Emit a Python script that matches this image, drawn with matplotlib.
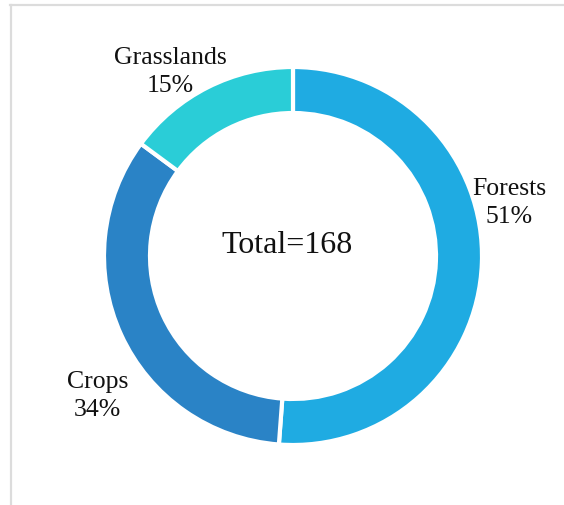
import matplotlib
matplotlib.use("Agg")
import matplotlib.pyplot as plt
from matplotlib.lines import Line2D

categories = ["Forests", "Crops", "Grasslands"]
values = [86, 57, 25]
colors = ["#1FABE2", "#2A83C6", "#2ACDD7"]

W, H = 564, 506
fig = plt.figure(figsize=(W / 100, H / 100), dpi=100)
fig.patch.set_facecolor("white")
ax = fig.add_axes([0, 0, 1, 1])

total = sum(values)
cx, cy = 293, H - 257
ax.pie(values, colors=colors, startangle=90, counterclock=False,
       radius=189, center=(cx, cy),
       wedgeprops=dict(width=46, edgecolor="white", linewidth=3))
ax.set_xlim(0, W)
ax.set_ylim(0, H)
ax.set_aspect("equal")
ax.axis("off")

font = "Liberation Serif"
label_pos = {"Forests": (509, H - 203), "Crops": (97.5, H - 396), "Grasslands": (170, H - 72)}
for cat, v in zip(categories, values):
    x, y = label_pos[cat]
    ax.text(x, y, f"{cat}\n{round(v / total * 100)}%", ha="center", va="center",
            fontsize=18.5, family=font, linespacing=1.3, color="#111111")

ax.text(287.5, H - 253, f"Total={total}", ha="center", va="baseline",
        fontsize=23, family=font, color="#111111")

# frame lines (top and left)
fig.add_artist(Line2D([10 / W, 1], [1 - 6 / H, 1 - 6 / H], transform=fig.transFigure,
                      color="#dcdcdc", linewidth=1.6))
fig.add_artist(Line2D([10.5 / W, 10.5 / W], [0, 1 - 6 / H], transform=fig.transFigure,
                      color="#dcdcdc", linewidth=1.6))

fig.savefig("out.png", dpi=100, facecolor="white")
